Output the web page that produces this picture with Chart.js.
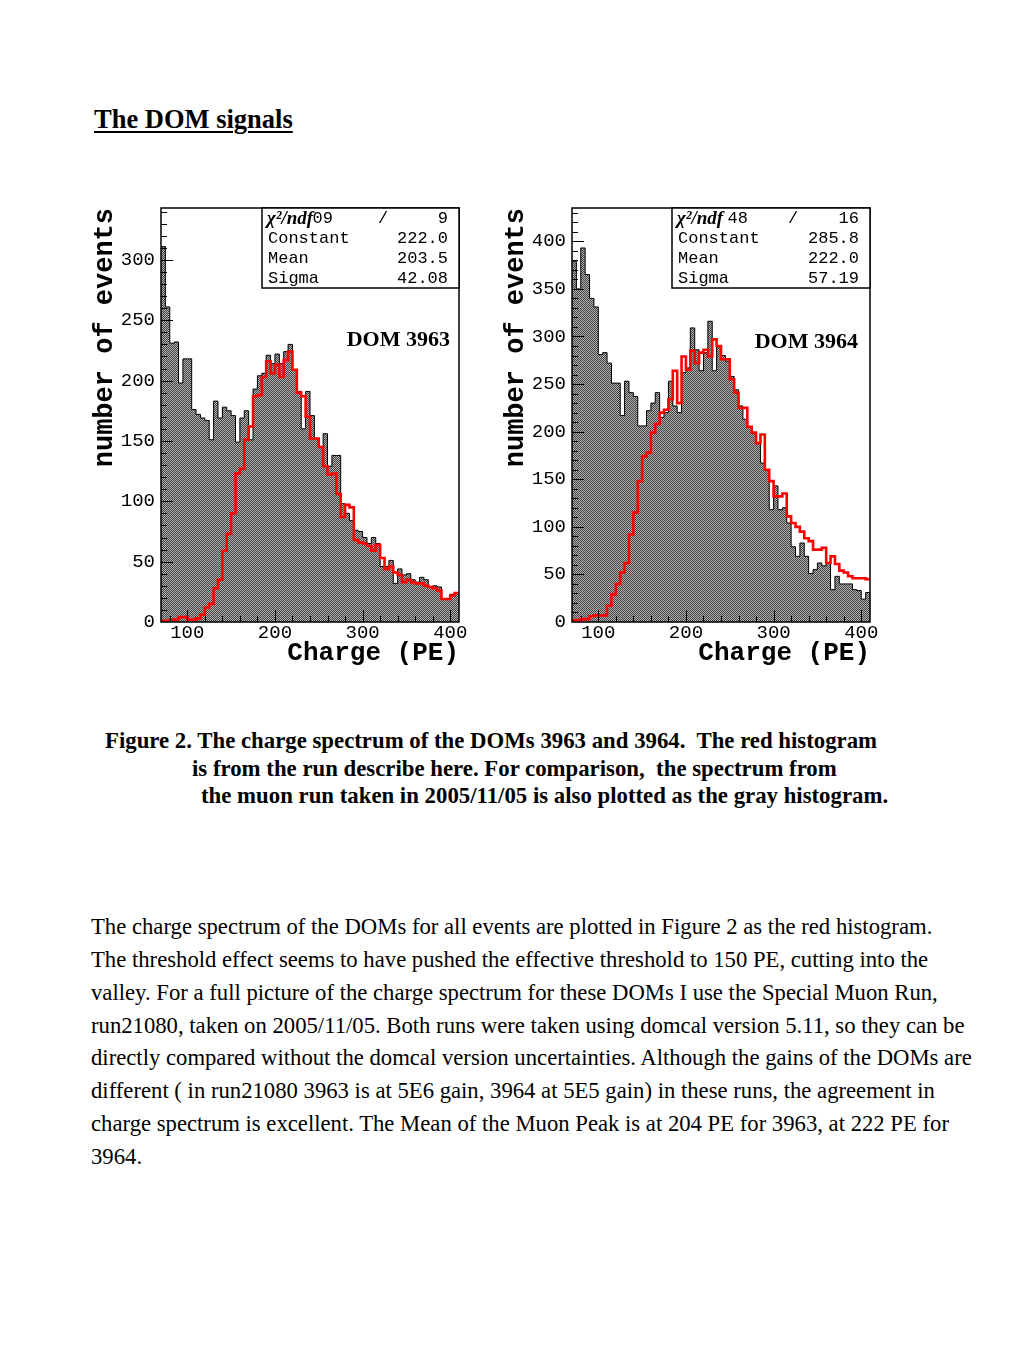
<!DOCTYPE html>
<html><head><meta charset="utf-8">
<script src="https://cdn.jsdelivr.net/npm/chart.js@4.4.1/dist/chart.umd.min.js"></script>
<style>
html,body{margin:0;padding:0;background:#fff;}
body{width:1024px;height:1365px;position:relative;overflow:hidden;font-family:"Liberation Serif","Times New Roman",serif;color:#000;}
.t{position:absolute;white-space:pre;line-height:1;}
#title{left:94px;top:106px;font-size:26.5px;font-weight:bold;text-decoration:underline;text-decoration-thickness:2px;text-underline-offset:3px;}
.cap{font-weight:bold;font-size:22.8px;}
.bd{font-size:22.7px;left:91px;}
.box{position:absolute;width:385px;height:480px;}
</style></head><body>
<div id="title" class="t">The DOM signals</div>

<div class="box" style="left:88px;top:195px"><canvas id="c1" width="385" height="480"></canvas></div>
<div class="box" style="left:499px;top:195px"><canvas id="c2" width="385" height="480"></canvas></div>

<div class="t cap" style="left:105px;top:729.5px">Figure 2. The charge spectrum of the DOMs 3963 and 3964.  The red histogram</div>
<div class="t cap" style="left:192px;top:757.5px">is from the run describe here. For comparison,  the spectrum from</div>
<div class="t cap" style="left:201px;top:784.5px">the muon run taken in 2005/11/05 is also plotted as the gray histogram.</div>

<div class="t bd" style="top:915.5px">The charge spectrum of the DOMs for all events are plotted in Figure 2 as the red histogram.</div>
<div class="t bd" style="top:948.5px">The threshold effect seems to have pushed the effective threshold to 150 PE, cutting into the</div>
<div class="t bd" style="top:981.5px">valley. For a full picture of the charge spectrum for these DOMs I use the Special Muon Run,</div>
<div class="t bd" style="top:1014.5px">run21080, taken on 2005/11/05. Both runs were taken using domcal version 5.11, so they can be</div>
<div class="t bd" style="top:1046.5px">directly compared without the domcal version uncertainties. Although the gains of the DOMs are</div>
<div class="t bd" style="top:1079.5px">different ( in run21080 3963 is at 5E6 gain, 3964 at 5E5 gain) in these runs, the agreement in</div>
<div class="t bd" style="top:1112.5px">charge spectrum is excellent. The Mean of the Muon Peak is at 204 PE for 3963, at 222 PE for</div>
<div class="t bd" style="top:1145.5px">3964.</div>

<script>
// ---- data ----
const binEdges = [70,75,80,85,90,95,100,105,110,115,120,125,130,135,140,145,150,155,160,165,170,175,180,185,190,195,200,205,210,215,220,225,230,235,240,245,250,255,260,265,270,275,280,285,290,295,300,305,310,315,320,325,330,335,340,345,350,355,360,365,370,375,380,385,390,395,400,405,410];
const xTickLabels = [100,200,300,400];
const yTicks3963 = [0,50,100,150,200,250,300];
const yTicks3964 = [0,50,100,150,200,250,300,350,400];

const gray3963 = [311,261,231,232,198,218,218,176,172,169,167,151,183,169,178,175,171,149,169,175,151,193,204,206,221,214,222,214,224,230,209,191,160,191,171,152,145,156,129,138,138,98,90,84,76,75,70,65,70,65,46,46,51,32,44,39,40,35,33,37,35,29,30,29,19,19,23,24];
const red3963 = [1,1,2,2,4,4,2,2,3,6,12,15,28,35,59,73,90,123,127,151,162,187,188,203,216,206,213,203,217,224,209,190,187,170,152,152,145,129,122,123,106,87,97,95,68,66,65,63,59,64,53,44,46,41,39,33,35,33,32,32,30,29,28,26,19,19,22,24];

const gray3964 = [379,350,393,365,340,331,281,283,272,251,251,217,253,241,237,206,206,222,230,241,215,220,253,227,220,262,267,309,286,264,283,316,264,289,280,274,258,244,227,213,205,199,188,167,160,118,143,118,120,104,79,69,83,69,51,55,62,59,62,34,48,40,40,40,34,33,24,31];
const red3964 = [2,2,3,3,6,7,7,7,17,29,40,52,62,92,115,148,174,178,199,208,220,223,234,264,230,279,265,285,272,283,286,279,297,290,276,276,255,241,225,225,205,199,188,197,160,148,132,132,135,111,104,100,95,88,85,76,76,78,62,69,61,54,52,48,46,46,46,45];

const statLabels = ["Constant","Mean","Sigma"];
const stats3963 = ["222.0","203.5","42.08"];
const stats3964 = ["285.8","222.0","57.19"];
const chi3963 = ["09","9"];
const chi3964 = ["48","16"];

// ---- helpers ----
function stepPoints(edges, vals){
  const pts = vals.map((v,i)=>({x:edges[i], y:v}));
  pts.push({x:edges[vals.length], y:vals[vals.length-1]});
  return pts;
}
function makePattern(){
  const p=document.createElement('canvas'); p.width=2; p.height=2;
  const c=p.getContext('2d');
  c.fillStyle='#b4b4b4'; c.fillRect(0,0,2,2);
  c.fillStyle='#404040'; c.fillRect(0,0,1,1); c.fillRect(1,1,1,1);
  return c.createPattern(p,'repeat');
}
function zeroPad(s){ s.paddingTop=0; s.paddingBottom=0; s.paddingLeft=0; s.paddingRight=0; }

const rootDeco = {
  id:'rootDeco',
  afterDatasetsDraw(chart, args, o){
    const {ctx, chartArea:a, scales:{x,y}} = chart;
    ctx.save();
    ctx.strokeStyle='#000';
    // ticks
    ctx.lineWidth=1;
    ctx.beginPath();
    for(let v=10; v<y.max; v+=10){
      const py=Math.round(y.getPixelForValue(v))+0.5;
      const major = o.yTicks.includes(v);
      ctx.moveTo(a.left, py); ctx.lineTo(a.left+(major?12:6), py);
    }
    for(let v=80; v<x.max; v+=20){
      const px=Math.round(x.getPixelForValue(v))+0.5;
      const major = xTickLabels.includes(v);
      ctx.moveTo(px, a.bottom); ctx.lineTo(px, a.bottom-(major?12:6));
    }
    ctx.stroke();
    // frame
    ctx.lineWidth=1.5;
    ctx.strokeRect(a.left, a.top, a.right-a.left, a.bottom-a.top);
    // stats box
    const bx=a.left+o.boxLeft, by=a.top, bw=a.right-bx, bh=80;
    ctx.fillStyle='#fff'; ctx.fillRect(bx,by,bw,bh);
    ctx.strokeRect(bx,by,bw,bh);
    ctx.fillStyle='#000';
    ctx.textBaseline='middle';
    ctx.font="17px 'Liberation Mono'";
    ctx.textAlign='right';
    ctx.fillText(o.chi[0], bx+o.chiNumRight, by+10);
    ctx.textAlign='center';
    ctx.fillText('/', bx+121, by+10);
    ctx.textAlign='right';
    ctx.fillText(o.chi[1], a.right-o.valRight, by+10);
    ctx.textAlign='left';
    ctx.font="bold italic 19px 'Liberation Serif'";
    ctx.fillText('\u03C7\u00B2/ndf', bx+5, by+11);
    ctx.font="17px 'Liberation Mono'";
    statLabels.forEach((l,i)=>{
      ctx.textAlign='left'; ctx.fillText(l, bx+6, by+30+20*i);
      ctx.textAlign='right'; ctx.fillText(o.vals[i], a.right-o.valRight, by+30+20*i);
    });
    // DOM label
    ctx.font="bold 22px 'Liberation Serif'";
    ctx.textAlign='right';
    ctx.fillText(o.dom, a.right-o.domRight, a.top+o.domY);
    ctx.restore();
  }
};

function makeChart(id, gray, red, yMax, yTicks, deco){
  const ctx=document.getElementById(id).getContext('2d');
  const mono="'Liberation Mono', 'Courier New', monospace";
  return new Chart(ctx,{
    type:'line',
    data:{datasets:[
      {data:stepPoints(binEdges, red), stepped:true, borderColor:'#ff0000', borderWidth:2.6, fill:false, pointRadius:0},
      {data:stepPoints(binEdges, gray), stepped:true, borderColor:'#000', borderWidth:1, fill:'origin', backgroundColor:makePattern(), pointRadius:0}
    ]},
    options:{
      responsive:false, animation:false, devicePixelRatio:1,
      layout:{padding:{top:13,right:14,left:0,bottom:0}},
      plugins:{legend:{display:false}, tooltip:{enabled:false}, rootDeco:deco},
      scales:{
        x:{type:'linear', min:70, max:410,
          afterBuildTicks:s=>{s.ticks=xTickLabels.map(v=>({value:v}));},
          afterFit:s=>{s.height=53; zeroPad(s);},
          grid:{display:false, drawTicks:false}, border:{display:false},
          ticks:{font:{family:mono,size:19}, color:'#000', padding:0, maxRotation:0, minRotation:0, autoSkip:false, callback:v=>String(v)},
          title:{display:true, text:'Charge (PE)', align:'end', color:'#000', font:{family:mono,size:26,weight:'bold',lineHeight:1}, padding:{top:0,bottom:9}}
        },
        y:{type:'linear', min:0, max:yMax,
          afterBuildTicks:s=>{s.ticks=yTicks.map(v=>({value:v}));},
          afterFit:s=>{s.width=73; zeroPad(s);},
          grid:{display:false, drawTicks:false}, border:{display:false},
          ticks:{font:{family:mono,size:19}, color:'#000', padding:6, autoSkip:false, callback:v=>String(v)},
          title:{display:true, text:'number of events', align:'end', color:'#000', font:{family:mono,size:27,weight:'bold',lineHeight:1}, padding:{top:4,bottom:0}}
        }
      }
    },
    plugins:[rootDeco]
  });
}

makeChart('c1', gray3963, red3963, 343, yTicks3963,
  {yTicks:yTicks3963, boxLeft:101, chi:chi3963, chiNumRight:71, vals:stats3963, valRight:11, dom:'DOM 3963', domRight:9, domY:132});
makeChart('c2', gray3964, red3964, 435, yTicks3964,
  {yTicks:yTicks3964, boxLeft:100, chi:chi3964, chiNumRight:76, vals:stats3964, valRight:11, dom:'DOM 3964', domRight:12, domY:134});
</script>
</body></html>
